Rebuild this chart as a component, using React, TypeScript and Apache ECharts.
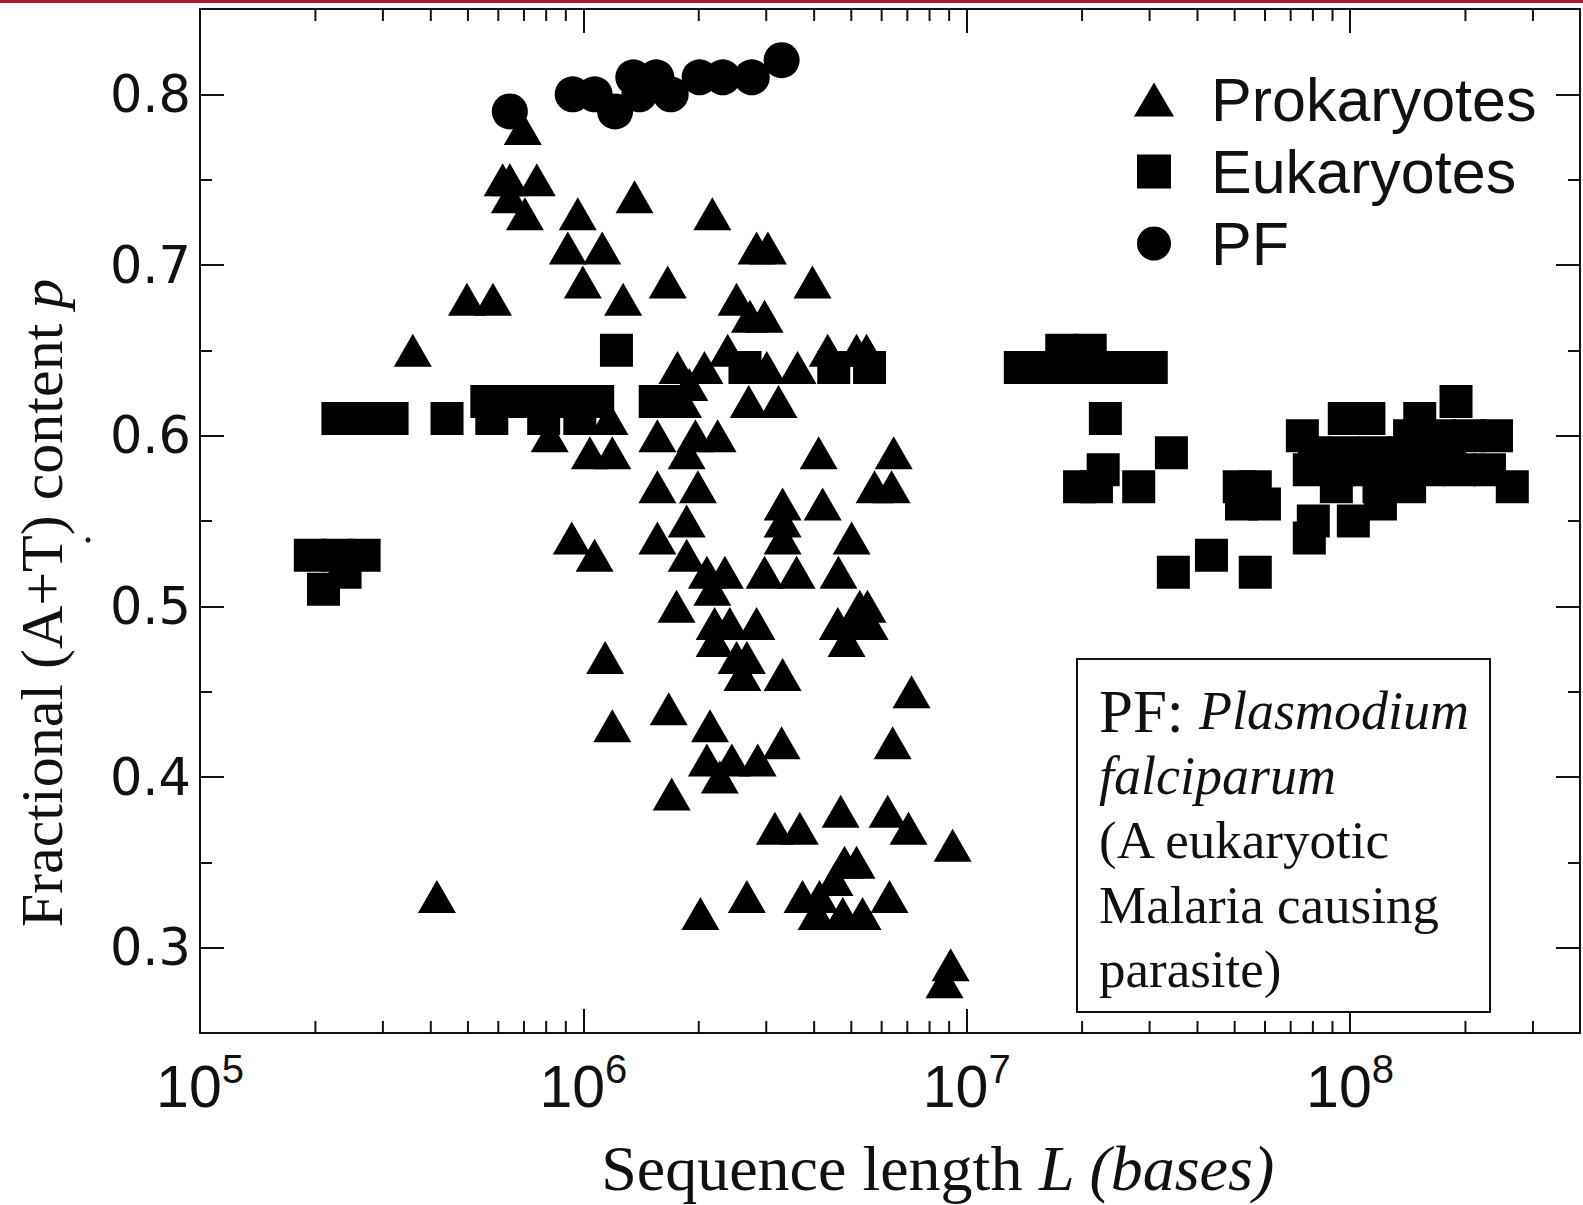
import { useEffect, useRef } from 'react';
import * as echarts from 'echarts';

// Sequence length L (bases) and fractional (A+T) content p for each genome.
const prokaryotes: [number, number][] = [
  [6.95e5, 0.78],
  [6.16e5, 0.75], [6.43e5, 0.75], [7.56e5, 0.75],
  [6.43e5, 0.74], [1.36e6, 0.74],
  [7.04e5, 0.73], [9.67e5, 0.73], [2.17e6, 0.73],
  [9.11e5, 0.71], [1.12e6, 0.71], [2.83e6, 0.71], [3.03e6, 0.71],
  [9.97e5, 0.69], [1.66e6, 0.69], [3.96e6, 0.69],
  [4.97e5, 0.68], [5.81e5, 0.68], [1.27e6, 0.68], [2.51e6, 0.68],
  [2.72e6, 0.67], [2.97e6, 0.67],
  [3.59e5, 0.65], [2.38e6, 0.65], [4.34e6, 0.65], [5.16e6, 0.65], [5.48e6, 0.65],
  [1.76e6, 0.64], [2.07e6, 0.64], [3.01e6, 0.64], [3.62e6, 0.64],
  [1.89e6, 0.63],
  [1.82e6, 0.62], [2.70e6, 0.62], [3.23e6, 0.62],
  [1.17e6, 0.61],
  [8.17e5, 0.60], [1.56e6, 0.60], [1.96e6, 0.60], [2.24e6, 0.60],
  [1.04e6, 0.59], [1.19e6, 0.59], [1.86e6, 0.59], [4.11e6, 0.59], [6.45e6, 0.59],
  [1.56e6, 0.57], [1.99e6, 0.57], [5.75e6, 0.57], [6.37e6, 0.57],
  [3.31e6, 0.56], [4.21e6, 0.56],
  [1.86e6, 0.55], [3.31e6, 0.55],
  [9.33e5, 0.54], [1.56e6, 0.54], [3.31e6, 0.54], [5.01e6, 0.54],
  [1.07e6, 0.53], [1.86e6, 0.53],
  [2.10e6, 0.52], [2.34e6, 0.52], [2.97e6, 0.52], [3.60e6, 0.52], [4.63e6, 0.52],
  [2.17e6, 0.51],
  [1.75e6, 0.50], [5.26e6, 0.50], [5.51e6, 0.50],
  [2.20e6, 0.49], [2.41e6, 0.49], [2.83e6, 0.49], [4.61e6, 0.49], [5.04e6, 0.49], [5.58e6, 0.49],
  [2.20e6, 0.48], [4.86e6, 0.48],
  [1.14e6, 0.47], [2.51e6, 0.47], [2.67e6, 0.47],
  [2.60e6, 0.46], [3.31e6, 0.46],
  [7.18e6, 0.45],
  [1.67e6, 0.44],
  [1.19e6, 0.43], [2.14e6, 0.43],
  [3.29e6, 0.42], [6.41e6, 0.42],
  [2.10e6, 0.41], [2.44e6, 0.41], [2.85e6, 0.41],
  [2.27e6, 0.40],
  [1.70e6, 0.39],
  [4.69e6, 0.38], [6.22e6, 0.38],
  [3.16e6, 0.37], [3.67e6, 0.37], [7.05e6, 0.37],
  [9.19e6, 0.36],
  [4.80e6, 0.35], [5.16e6, 0.35],
  [4.52e6, 0.34],
  [4.15e5, 0.33], [2.67e6, 0.33], [3.73e6, 0.33], [4.13e6, 0.33], [6.29e6, 0.33],
  [2.02e6, 0.32], [4.06e6, 0.32], [4.75e6, 0.32], [5.35e6, 0.32],
  [9.08e6, 0.29],
  [8.75e6, 0.28],
];

const eukaryotes: [number, number][] = [
  [1.94e5, 0.53], [2.28e5, 0.53], [2.68e5, 0.53], [2.39e5, 0.52], [2.10e5, 0.51],
  [2.29e5, 0.61], [2.69e5, 0.61], [3.17e5, 0.61], [4.41e5, 0.61], [5.77e5, 0.61], [7.88e5, 0.61], [9.79e5, 0.61],
  [5.60e5, 0.62], [6.63e5, 0.62], [7.93e5, 0.62], [9.22e5, 0.62], [1.09e6, 0.62], [1.54e6, 0.62], [1.71e6, 0.62],
  [1.22e6, 0.65],
  [2.64e6, 0.64], [4.50e6, 0.64], [5.58e6, 0.64],
  [1.38e7, 0.64], [1.64e7, 0.64], [1.97e7, 0.64], [2.36e7, 0.64], [2.77e7, 0.64], [3.03e7, 0.64],
  [1.77e7, 0.65], [2.10e7, 0.65],
  [2.30e7, 0.61],
  [2.27e7, 0.58],
  [1.97e7, 0.57], [2.18e7, 0.57], [2.81e7, 0.57],
  [3.42e7, 0.59],
  [5.14e7, 0.57], [5.66e7, 0.57],
  [5.21e7, 0.56], [5.98e7, 0.56],
  [4.35e7, 0.53],
  [3.46e7, 0.52], [5.66e7, 0.52],
  [7.51e7, 0.60],
  [9.66e7, 0.61], [1.12e8, 0.61], [1.52e8, 0.61],
  [1.89e8, 0.62],
  [1.43e8, 0.60], [1.71e8, 0.60], [2.05e8, 0.60], [2.41e8, 0.60],
  [8.07e7, 0.59], [9.66e7, 0.59], [1.16e8, 0.59], [1.39e8, 0.59], [1.66e8, 0.59], [1.82e8, 0.59],
  [7.83e7, 0.58], [9.38e7, 0.58], [1.12e8, 0.58], [1.34e8, 0.58], [1.61e8, 0.58], [1.93e8, 0.58], [2.31e8, 0.58],
  [9.21e7, 0.57], [1.19e8, 0.57], [1.43e8, 0.57], [2.65e8, 0.57],
  [1.20e8, 0.56],
  [8.02e7, 0.55], [1.02e8, 0.55],
  [7.83e7, 0.54],
];

const plasmodium: [number, number][] = [
  [6.43e5, 0.79], [9.38e5, 0.80], [1.07e6, 0.80], [1.21e6, 0.79],
  [1.35e6, 0.81], [1.40e6, 0.80], [1.55e6, 0.81], [1.69e6, 0.80],
  [2.01e6, 0.81], [2.31e6, 0.81], [2.75e6, 0.81], [3.29e6, 0.82],
];

// Axis ranges and tick labels
const X_MIN = 1e5;
const X_MAX = 3.98e8;
const Y_MIN = 0.25;
const Y_MAX = 0.85;
const xDecades = [5, 6, 7, 8];
const yTickLabels = ['0.3', '0.4', '0.5', '0.6', '0.7', '0.8'];

const SANS = '"Liberation Sans", Arial, Helvetica, sans-serif';
const WIDE_SANS = '"DejaVu Sans", "Liberation Sans", Arial, sans-serif';
const SERIF = '"Liberation Serif", "Times New Roman", Times, serif';
const INK = '#111';

// Logarithmic minor ticks (2..9 times each power of ten) inside the x range
const xMinorTicks: number[] = [];
for (const d of xDecades) {
  for (let k = 2; k <= 9; k++) {
    const v = k * Math.pow(10, d);
    if (v < X_MAX) xMinorTicks.push(v);
  }
}

const lineStyle = { color: INK, width: 2 };

function xLabel(v: number): string {
  const e = Math.log10(v);
  const r = Math.round(e);
  if (Math.abs(e - r) > 1e-6 || !xDecades.includes(r)) return '';
  return `{b|10}{s|${r}}`;
}

function yLabel(v: number): string {
  const hit = yTickLabels.find((t) => Math.abs(parseFloat(t) - v) < 1e-6);
  return hit || '';
}

function buildOption(): any {
  const xCommon = {
    type: 'log',
    logBase: 10,
    min: X_MIN,
    max: X_MAX,
    axisLine: { show: true, onZero: false, lineStyle },
    axisTick: { show: true, inside: true, length: 24, lineStyle },
    splitLine: { show: false },
  };
  const yCommon = {
    type: 'value',
    min: Y_MIN,
    max: Y_MAX,
    splitNumber: 6,
    axisLine: { show: true, onZero: false, lineStyle },
    axisTick: { show: true, inside: true, length: 24, lineStyle },
    minorTick: { show: true, splitNumber: 2, length: 12, lineStyle },
    splitLine: { show: false },
  };
  const markerStyle = { color: '#000', opacity: 1 };

  return {
    animation: false,
    backgroundColor: '#ffffff',
    grid: { left: 200, top: 9, width: 1381, height: 1024, containLabel: false },
    xAxis: [
      {
        ...xCommon,
        position: 'bottom',
        axisLabel: {
          margin: 22,
          formatter: xLabel,
          rich: {
            // both tokens share one box height so the exponent sits raised
            b: {
              fontFamily: SANS, fontSize: 59, lineHeight: 50, color: INK,
              padding: [13, 0, 0, 0],
            },
            s: {
              fontFamily: SANS, fontSize: 40, lineHeight: 40, color: INK,
              padding: [0, 0, 23, 0],
            },
          },
        },
      },
      { ...xCommon, position: 'top', axisLabel: { show: false } },
    ],
    yAxis: [
      {
        ...yCommon,
        position: 'left',
        axisLabel: {
          margin: 9,
          fontFamily: WIDE_SANS,
          fontSize: 51,
          color: INK,
          formatter: yLabel,
        },
      },
      { ...yCommon, position: 'right', axisLabel: { show: false } },
    ],
    legend: {
      data: [
        { name: 'Prokaryotes', icon: 'path://M20,0L40,34L0,34Z' },
        { name: 'Eukaryotes', icon: 'path://M0,0H34V34H0Z' },
        { name: 'PF', icon: 'circle' },
      ],
      orient: 'vertical',
      left: 1134,
      top: 69,
      itemWidth: 40,
      itemHeight: 34,
      itemGap: 11,
      padding: 0,
      selectedMode: false,
      itemStyle: { opacity: 1 },
      textStyle: {
        fontFamily: SANS,
        fontSize: 61,
        lineHeight: 60,
        color: INK,
        padding: [0, 0, 0, 32],
      },
    },
    series: [
      {
        type: 'custom',
        name: 'minor ticks',
        xAxisIndex: 0,
        yAxisIndex: 0,
        silent: true,
        clip: false,
        data: xMinorTicks.map((v) => [v, Y_MIN]),
        encode: { x: 0, y: 1 },
        renderItem: (_params: any, api: any) => {
          const v = api.value(0);
          const b = api.coord([v, Y_MIN]);
          const t = api.coord([v, Y_MAX]);
          return {
            type: 'group',
            children: [
              {
                type: 'line',
                shape: { x1: b[0], y1: b[1], x2: b[0], y2: b[1] - 12 },
                style: { stroke: INK, lineWidth: 2 },
              },
              {
                type: 'line',
                shape: { x1: t[0], y1: t[1], x2: t[0], y2: t[1] + 12 },
                style: { stroke: INK, lineWidth: 2 },
              },
            ],
          };
        },
      },
      {
        type: 'scatter',
        name: 'Prokaryotes',
        data: prokaryotes,
        symbol: 'triangle',
        symbolSize: [38, 33],
        itemStyle: markerStyle,
        emphasis: { disabled: true },
      },
      {
        type: 'scatter',
        name: 'Eukaryotes',
        data: eukaryotes,
        symbol: 'rect',
        symbolSize: 33,
        itemStyle: markerStyle,
        emphasis: { disabled: true },
      },
      {
        type: 'scatter',
        name: 'PF',
        data: plasmodium,
        symbol: 'circle',
        symbolSize: 36,
        itemStyle: markerStyle,
        emphasis: { disabled: true },
      },
    ],
    graphic: [
      // slide header rule
      {
        type: 'rect',
        shape: { x: 0, y: 0, width: 1583, height: 3 },
        style: { fill: '#a6192e' },
      },
      // y-axis title
      {
        type: 'text',
        x: 42,
        y: 603,
        rotation: Math.PI / 2,
        style: {
          text: '{r|Fractional (A+T) content }{i|p}',
          rich: {
            r: { fontFamily: SERIF, fontSize: 60, fill: INK },
            i: { fontFamily: SERIF, fontSize: 60, fontStyle: 'italic', fill: INK },
          },
          align: 'center',
          verticalAlign: 'middle',
          textAlign: 'center',
          textVerticalAlign: 'middle',
        },
      },
      {
        type: 'circle',
        shape: { cx: 88, cy: 540, r: 2.5 },
        style: { fill: INK },
      },
      // x-axis title
      {
        type: 'text',
        x: 938,
        y: 1168,
        style: {
          text: '{r|Sequence length }{i|L (bases)}',
          rich: {
            r: { fontFamily: SERIF, fontSize: 64, fill: INK },
            i: { fontFamily: SERIF, fontSize: 64, fontStyle: 'italic', fill: INK },
          },
          align: 'center',
          verticalAlign: 'middle',
          textAlign: 'center',
          textVerticalAlign: 'middle',
        },
      },
      // annotation box
      {
        type: 'rect',
        shape: { x: 1077, y: 659, width: 413, height: 353 },
        style: { fill: '#ffffff', stroke: INK, lineWidth: 2 },
        z: 10,
      },
      {
        type: 'text',
        x: 1099,
        y: 679,
        z: 11,
        style: {
          text:
            '{pf|PF: }{it|Plasmodium}\n{it|falciparum}\n{rm|(A eukaryotic}\n{rm|Malaria causing}\n{rm|parasite)}',
          rich: {
            pf: { fontFamily: SERIF, fontSize: 61, lineHeight: 64.5, fill: INK },
            it: { fontFamily: SERIF, fontSize: 54, lineHeight: 64.5, fontStyle: 'italic', fill: INK },
            rm: { fontFamily: SERIF, fontSize: 53, lineHeight: 64.5, fill: INK },
          },
          align: 'left',
          verticalAlign: 'top',
          textAlign: 'left',
          textVerticalAlign: 'top',
        },
      },
    ],
  };
}

export default function App() {
  const ref = useRef<HTMLDivElement>(null);

  useEffect(() => {
    if (!ref.current) return;
    const chart = echarts.init(ref.current, undefined, { renderer: 'svg' });
    chart.setOption(buildOption());
    return () => chart.dispose();
  }, []);

  return (
    <div
      ref={ref}
      style={{
        position: 'fixed',
        left: 0,
        top: 0,
        width: 1583,
        height: 1205,
        background: '#ffffff',
      }}
    />
  );
}
